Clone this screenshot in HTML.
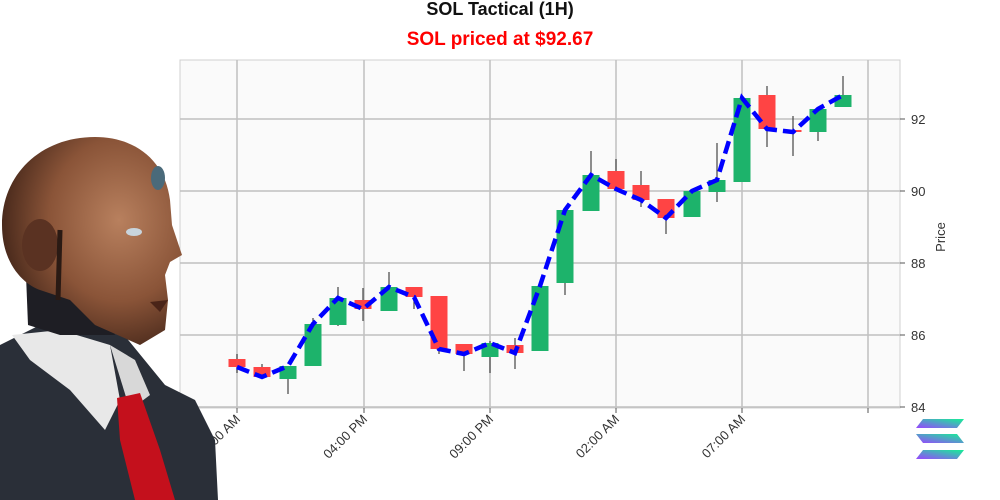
<!DOCTYPE html>
<html><head><meta charset="utf-8"><style>
html,body{margin:0;padding:0;background:#fff;}
svg{display:block;font-family:"Liberation Sans","DejaVu Sans",sans-serif;}
</style></head><body>
<svg width="1000" height="500" viewBox="0 0 1000 500" xmlns="http://www.w3.org/2000/svg">
<defs>
<linearGradient id="sg" x1="0" y1="1" x2="1" y2="0">
<stop offset="0" stop-color="#9945ff"/><stop offset="1" stop-color="#14f195"/>
</linearGradient>
<radialGradient id="skin" cx="0.65" cy="0.4" r="0.65">
<stop offset="0" stop-color="#b8805e"/><stop offset="0.6" stop-color="#8a5438"/><stop offset="1" stop-color="#4a2a1c"/>
</radialGradient>
</defs>
<rect x="180" y="60" width="720" height="348" fill="#fafafa" stroke="#d0d0d0"/>
<g stroke="#c0c0c0" stroke-width="1.5">
<line x1="237" y1="60" x2="237" y2="408"/><line x1="364" y1="60" x2="364" y2="408"/>
<line x1="490" y1="60" x2="490" y2="408"/><line x1="616" y1="60" x2="616" y2="408"/>
<line x1="742" y1="60" x2="742" y2="408"/><line x1="868" y1="60" x2="868" y2="408"/>
<line x1="180" y1="119" x2="900" y2="119"/><line x1="180" y1="191" x2="900" y2="191"/>
<line x1="180" y1="263" x2="900" y2="263"/><line x1="180" y1="335" x2="900" y2="335"/>
<line x1="180" y1="407" x2="900" y2="407"/>
</g>
<g stroke="#555" stroke-width="1">
<line x1="900" y1="119" x2="905" y2="119"/><line x1="900" y1="191" x2="905" y2="191"/><line x1="900" y1="263" x2="905" y2="263"/><line x1="900" y1="335" x2="905" y2="335"/><line x1="900" y1="407" x2="905" y2="407"/>
<line x1="237" y1="408" x2="237" y2="413"/><line x1="364" y1="408" x2="364" y2="413"/><line x1="490" y1="408" x2="490" y2="413"/><line x1="616" y1="408" x2="616" y2="413"/><line x1="742" y1="408" x2="742" y2="413"/><line x1="868" y1="408" x2="868" y2="413"/>
</g>
<g font-size="13" fill="#333">
<text x="911" y="124">92</text><text x="911" y="196">90</text><text x="911" y="268">88</text><text x="911" y="340">86</text><text x="911" y="412">84</text>
<text transform="translate(945,237) rotate(-90)" text-anchor="middle">Price</text>
<g text-anchor="end">
<text transform="translate(241,420) rotate(-45)">11:00 AM</text>
<text transform="translate(368,420) rotate(-45)">04:00 PM</text>
<text transform="translate(494,420) rotate(-45)">09:00 PM</text>
<text transform="translate(620,420) rotate(-45)">02:00 AM</text>
<text transform="translate(746,420) rotate(-45)">07:00 AM</text>
</g></g>
<g stroke="#444" stroke-width="1.2">
<line x1="237" y1="354" x2="237" y2="373"/><line x1="262" y1="364" x2="262" y2="378"/><line x1="288" y1="366" x2="288" y2="394"/>
<line x1="313" y1="318" x2="313" y2="366"/><line x1="338" y1="287" x2="338" y2="326"/><line x1="363" y1="288" x2="363" y2="321"/>
<line x1="389" y1="272" x2="389" y2="311"/><line x1="414" y1="287" x2="414" y2="309"/><line x1="439" y1="296" x2="439" y2="354"/>
<line x1="464" y1="344" x2="464" y2="371"/><line x1="490" y1="341" x2="490" y2="373"/><line x1="515" y1="338" x2="515" y2="369"/>
<line x1="540" y1="286" x2="540" y2="351"/><line x1="565" y1="210" x2="565" y2="295"/><line x1="591" y1="151" x2="591" y2="211"/>
<line x1="616" y1="159" x2="616" y2="189"/><line x1="641" y1="171" x2="641" y2="207"/><line x1="666" y1="199" x2="666" y2="234"/>
<line x1="692" y1="191" x2="692" y2="217"/><line x1="717" y1="143" x2="717" y2="202"/><line x1="742" y1="98" x2="742" y2="182"/>
<line x1="767" y1="86" x2="767" y2="147"/><line x1="793" y1="116" x2="793" y2="156"/><line x1="818" y1="109" x2="818" y2="141"/>
<line x1="843" y1="76" x2="843" y2="107"/>
</g>
<g fill="#ff4444">
<rect x="228.5" y="359" width="17" height="8"/><rect x="253.5" y="367" width="17" height="10"/><rect x="354.5" y="300" width="17" height="9"/>
<rect x="405.5" y="287" width="17" height="10"/>
<rect x="430.5" y="296" width="17" height="53"/><rect x="455.5" y="344" width="17" height="10"/><rect x="506.5" y="345" width="17" height="8"/>
<rect x="607.5" y="171" width="17" height="18"/><rect x="632.5" y="185" width="17" height="15"/><rect x="657.5" y="199" width="17" height="19"/>
<rect x="758.5" y="95" width="17" height="34"/><rect x="784.5" y="130" width="17" height="2"/>
</g>
<g fill="#1db36b">
<rect x="279.5" y="366" width="17" height="13"/><rect x="304.5" y="324" width="17" height="42"/><rect x="329.5" y="298" width="17" height="27"/>
<rect x="380.5" y="287" width="17" height="24"/><rect x="481.5" y="343" width="17" height="14"/><rect x="531.5" y="286" width="17" height="65"/>
<rect x="556.5" y="210" width="17" height="73"/><rect x="582.5" y="175" width="17" height="36"/><rect x="683.5" y="191" width="17" height="26"/>
<rect x="708.5" y="180" width="17" height="12"/><rect x="733.5" y="98" width="17" height="84"/><rect x="809.5" y="109" width="17" height="23"/>
<rect x="834.5" y="95" width="17" height="12"/>
</g>
<polyline fill="none" stroke="#0000ff" stroke-width="4.5" stroke-dasharray="13,6" points="237,367 262,377 288,366 313,324 338,298 363,309 389,287 414,297 439,349 464,354 490,343 515,353 540,286 565,210 591,175 616,189 641,200 666,218 692,191 717,180 742,98 767,129 793,132 818,109 843,95"/>
<text x="500" y="15" text-anchor="middle" font-size="18" font-weight="bold" fill="#111">SOL Tactical (1H)</text>
<text x="500" y="45" text-anchor="middle" font-size="19" font-weight="bold" fill="#ff0000">SOL priced at $92.67</text>
<!-- robot -->
<path d="M0,345 L40,325 L120,330 L165,385 L195,400 L215,440 L218,500 L0,500 Z" fill="#2a2f38"/>
<path d="M12,335 L60,330 L110,345 L120,400 L105,430 L70,390 L30,360 Z" fill="#e8e8e8"/>
<path d="M110,345 L135,360 L150,395 L130,410 Z" fill="#d8d8d8"/>
<path d="M117,398 L140,393 L160,450 L175,500 L135,500 L120,440 Z" fill="#c4101c"/>
<path d="M25,250 L80,250 L115,335 L60,335 L28,325 Z" fill="#1e1e24"/>
<path d="M95,137 C40,137 2,175 2,225 C2,265 25,285 40,290 L70,300 L95,325 L140,345 L165,330 L168,300 L165,275 L170,262 L182,255 L172,225 L170,200 C165,160 135,137 95,137 Z" fill="url(#skin)"/>
<ellipse cx="40" cy="245" rx="18" ry="26" fill="#5a3222"/>
<path d="M60,230 L58,300" stroke="#2a1a14" stroke-width="5" fill="none"/>
<ellipse cx="134" cy="232" rx="8" ry="4" fill="#c8d4dc"/>
<ellipse cx="158" cy="178" rx="7" ry="12" fill="#4a6a7a"/>
<path d="M150,302 L168,300 L160,312 Z" fill="#4a2418"/>
<!-- solana logo -->
<g fill="url(#sg)">
<path d="M923,419 L964,419 L957,428 L916,428 Z"/>
<path d="M916,434 L957,434 L964,443 L923,443 Z"/>
<path d="M923,450 L964,450 L957,459 L916,459 Z"/>
</g>
</svg>
</body></html>
